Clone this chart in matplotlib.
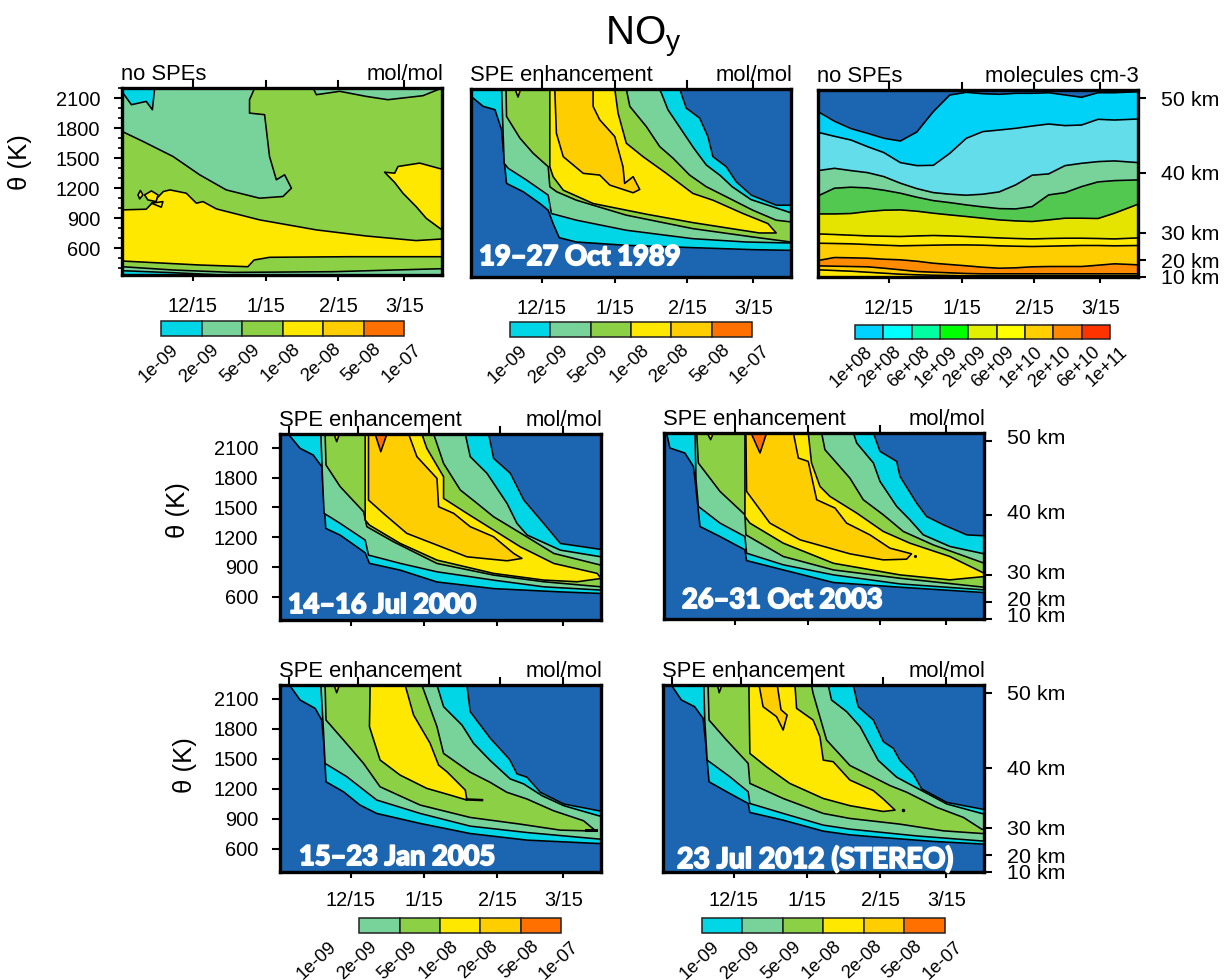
import matplotlib
matplotlib.use('Agg')
import matplotlib.pyplot as plt
import matplotlib.patheffects as pe
from matplotlib.transforms import ScaledTranslation

W, H = 1231, 980
plt.rcParams['font.family'] = ['Liberation Sans', 'DejaVu Sans']
plt.rcParams['mathtext.fontset'] = 'custom'
plt.rcParams['mathtext.rm'] = 'Liberation Sans'
plt.rcParams['mathtext.default'] = 'rm'

# x axis is days since 15 Nov, y axis is potential temperature in K
date_days = [30, 61, 92, 120]
date_labels = ['12/15', '1/15', '2/15', '3/15']
top_days_shifted = [4, 33, 63, 93, 120]
theta_ticks = [600, 900, 1200, 1500, 1800, 2100]
theta_minor = [400, 500, 700, 800, 1000, 1100, 1300, 1400, 1600, 1700, 1900, 2000, 2200]
km_labels = ['50 km', '40 km', '30 km', '20 km', '10 km']
km_theta_top = [2117, 1373, 770, 500, 330]
km_theta_low = [2160, 1412, 808, 536, 367]

mix_levels = ['1e-09', '2e-09', '5e-09', '1e-08', '2e-08', '5e-08', '1e-07']
dens_levels = ['1e+08', '2e+08', '6e+08', '1e+09', '2e+09', '6e+09', '1e+10', '2e+10', '6e+10', '1e+11']

BLUE = '#1c66b1'
CYAN = '#00d6e6'
TEAL = '#78d39b'
GREEN = '#8bd045'
YELLOW = '#ffe800'
GOLD = '#ffce00'
ORANGE = '#ff7000'
mix_colors = [CYAN, TEAL, GREEN, YELLOW, GOLD, ORANGE]
dens_colors = ['#00d2ff', '#00ffff', '#00ffa0', '#00ff00', '#e0f000', '#ffff00', '#ffcf00', '#ff8800', '#ff3300']
dens_bands = [BLUE, '#00d2f7', '#62dde9', TEAL, '#53c850', '#e4e400', YELLOW, GOLD, '#ff8c00', GOLD, YELLOW]

# no SPEs, mixing ratio
base_cyan_day = [0, 0.4, 4, 10.3, 12.9, 13.9]
base_cyan_theta = [2200, 2150, 2033, 2066, 1983, 2200]
base_teal_day = [0, 8.9, 21.7, 33, 44.3, 58.5, 68.4, 72, 69.1, 65.6, 62.7, 60.6, 54.2, 54.2, 56.4, 0]
base_teal_theta = [1766, 1666, 1515, 1332, 1181, 1098, 1115, 1198, 1332, 1282, 1515, 1933, 1949, 2083, 2200, 2200]
base_teal2_day = [81.2, 82.6, 92.5, 103.8, 113, 127.9, 136]
base_teal2_theta = [2200, 2133, 2167, 2116, 2083, 2123, 2200]
base_yellow_day = [0, 10.3, 17.6, 20.4, 27.3, 31.6, 34.4, 40.1, 58.5, 82.6, 103.8, 125, 136, 136, 96.7, 62.7, 56.1, 53.5, 33, 0]
base_yellow_theta = [981, 988, 1165, 1181, 1148, 1048, 1064, 991, 881, 781, 720, 674, 690, 513, 513, 507, 480, 413, 430, 470]
base_isle1_day = [9.6, 12.5, 15.3, 14.5, 11]
base_isle1_theta = [1131, 1171, 1131, 1064, 1081]
base_isle2_day = [6.8, 7.8, 8.9, 7.5]
base_isle2_theta = [1131, 1175, 1131, 1091]
base_isle3_day = [12.5, 17.4, 16.7]
base_isle3_theta = [1048, 1064, 1008]
base_patch_day = [111.6, 115.9, 117.3, 126.5, 136, 136, 129.3, 125, 119.4, 115.9]
base_patch_theta = [1358, 1348, 1415, 1449, 1388, 781, 897, 1014, 1148, 1255]
base_low_teal_day = [0, 21.7, 47.2, 89.7, 136, 136, 0]
base_low_teal_theta = [413, 380, 356, 363, 393, 320, 320]
base_low_cyan_day = [0, 21.7, 47.2, 0]
base_low_cyan_theta = [373, 353, 325, 325]

# 19-27 Oct 1989
oct89_a_day = [0, 5.2, 10.2, 13, 14.1, 15.1, 22.2, 29.3, 32.8, 34.9, 37.5, 44.8, 66, 94.3, 119.8, 136, 136, 129.7, 119.1, 112.7, 108.5, 102.8, 100.7, 97.2, 91.5, 88.7, 0]
oct89_a_theta = [2127, 2027, 1994, 1794, 1494, 1261, 1178, 1061, 994, 861, 721, 678, 645, 622, 602, 595, 1044, 1044, 1144, 1278, 1427, 1527, 1727, 1910, 2010, 2200, 2200]
oct89_b_day = [13, 14.1, 15.8, 23.6, 32.8, 34.2, 44.8, 66, 94.3, 117, 136, 136, 119, 111, 106, 100, 94.7, 88, 83.7, 80.9, 80]
oct89_b_theta = [2200, 1461, 1411, 1294, 1144, 961, 895, 795, 711, 678, 668, 968, 1100, 1228, 1338, 1444, 1611, 1844, 1994, 2160, 2200]
oct89_c_day = [14.9, 15.1, 20.8, 26.4, 32.8, 33.5, 36.4, 44.8, 66, 94.3, 119.8, 136, 136, 129.7, 119.8, 108.5, 100, 92.9, 85.9, 80.2, 74.5, 67.5, 66]
oct89_c_theta = [2200, 1927, 1711, 1561, 1427, 1228, 1178, 1094, 945, 811, 728, 678, 878, 895, 994, 1128, 1228, 1344, 1511, 1627, 1827, 2027, 2200]
oct89_d_day = [33.5, 33.5, 34.9, 39.2, 51.9, 74.5, 94.3, 122.6, 129.7, 126.2, 115.6, 102.8, 94.3, 83, 73.1, 66, 62.5, 61.1]
oct89_d_theta = [2200, 1427, 1328, 1194, 1061, 955, 871, 768, 768, 861, 961, 1094, 1161, 1361, 1527, 1661, 1960, 2200]
oct89_e_day = [35.6, 36.3, 39.2, 47.7, 54.7, 59, 68.9, 71.7, 68.9, 65.3, 64.6, 61.1, 54.7, 51.9, 51.9]
oct89_e_theta = [2200, 1760, 1527, 1361, 1344, 1244, 1168, 1201, 1328, 1261, 1427, 1727, 1894, 2027, 2200]
oct89_nub_day = [18.7, 20, 21.1]
oct89_nub_theta = [2200, 2120, 2200]

# no SPEs, number density: boundaries on one common day grid
dens_day = [0, 7, 14, 21, 28, 35, 42, 49, 56, 63, 70, 77, 84, 91, 98, 105, 112, 119, 126, 136]
dens_1 = [1984, 1887, 1814, 1767, 1717, 1690, 1780, 1984, 2150, 2177, 2163, 2157, 2167, 2167, 2173, 2150, 2127, 2173, 2173, 2183]
dens_2 = [1777, 1737, 1700, 1634, 1574, 1474, 1444, 1447, 1567, 1717, 1784, 1800, 1817, 1840, 1860, 1844, 1850, 1907, 1900, 1910]
dens_3 = [1394, 1417, 1394, 1374, 1334, 1268, 1214, 1174, 1158, 1148, 1158, 1181, 1251, 1348, 1361, 1444, 1467, 1484, 1491, 1474]
dens_4 = [1141, 1218, 1228, 1221, 1198, 1168, 1128, 1094, 1074, 1051, 1031, 1014, 1011, 1034, 1151, 1174, 1234, 1281, 1294, 1301]
dens_5 = [961, 961, 965, 985, 998, 1001, 988, 968, 951, 935, 918, 901, 891, 885, 901, 918, 918, 915, 968, 1058]
dens_6 = [761, 755, 748, 741, 738, 735, 741, 745, 741, 735, 728, 721, 715, 711, 715, 718, 718, 715, 711, 721]
dens_7 = [668, 665, 662, 655, 648, 642, 645, 648, 651, 651, 648, 642, 638, 635, 638, 642, 645, 645, 642, 645]
dens_8 = [495, 525, 522, 518, 508, 502, 488, 468, 455, 442, 428, 418, 422, 432, 435, 435, 435, 448, 462, 452]
dens_9 = [442, 438, 435, 432, 418, 402, 385, 378, 372, 365, 362, 362, 362, 362, 362, 362, 362, 362, 362, 362]
dens_10 = [402, 395, 388, 378, 368, 358, 352, 348, 345, 342, 342, 342, 342, 342, 342, 342, 342, 342, 342, 342]

# 14-16 Jul 2000
jul00_a_day = [3.5, 8.5, 14.1, 17.7, 18.4, 19.4, 25.5, 32.5, 36.1, 37.9, 50.9, 66.5, 90.5, 118.8, 136, 136, 118.8, 111.7, 103.3, 97.6, 90.5, 88.4]
jul00_a_theta = [2238, 2094, 2026, 1909, 1640, 1288, 1220, 1103, 1042, 936, 868, 749, 682, 649, 633, 1076, 1136, 1338, 1573, 1842, 1993, 2238]
jul00_b_day = [17.3, 18.1, 18.7, 25.5, 36.1, 37.5, 50.9, 66.5, 90.5, 111.7, 136, 136, 118.8, 104.7, 100.4, 96.2, 87.7, 80.6, 78.5]
jul00_b_theta = [2238, 1741, 1439, 1338, 1170, 1019, 936, 851, 767, 700, 667, 1002, 1069, 1221, 1338, 1539, 1842, 2010, 2238]
jul00_c_day = [19.1, 19.5, 25.5, 35.4, 36.8, 48.1, 66.5, 90.5, 111.7, 136, 136, 116, 103.3, 90.5, 83.5, 76.4, 69.3, 65.1]
jul00_c_theta = [2238, 1926, 1708, 1456, 1305, 1153, 935, 818, 751, 700, 918, 1036, 1221, 1405, 1540, 1674, 1942, 2238]
jul00_d_day = [36.1, 36.1, 37.9, 50.9, 66.5, 90.5, 111.7, 125.9, 136, 134.4, 116, 101.8, 90.5, 79.2, 69.3, 69.3, 62.2, 60.1]
jul00_d_theta = [2238, 1372, 1321, 1137, 969, 835, 768, 751, 784, 835, 935, 1103, 1271, 1439, 1590, 1808, 2094, 2238]
jul00_e_day = [37.5, 37.5, 43.8, 53.7, 66.5, 79.2, 96.2, 102.5, 99, 90.5, 80.6, 73.6, 67.2, 66.5, 58, 54.5]
jul00_e_theta = [2238, 1573, 1439, 1238, 1120, 1002, 962, 986, 1036, 1204, 1305, 1439, 1506, 1791, 2010, 2238]
jul00_f_day = [40.3, 42.7, 45.3]
jul00_f_theta = [2238, 2060, 2238]
jul00_nub_day = [22.9, 24, 25.2]
jul00_nub_theta = [2238, 2161, 2238]

# 26-31 Oct 2003
oct03_a_day = [1.1, 2.5, 8.9, 12.5, 13.2, 15.3, 23.8, 34.4, 35.1, 50.7, 72, 100.3, 136, 136, 128.6, 118.7, 111.6, 107.4, 100.3, 98.9, 91.8, 89]
oct03_a_theta = [2238, 2087, 2036, 1902, 1768, 1297, 1196, 1062, 954, 860, 733, 686, 632, 1203, 1213, 1314, 1398, 1532, 1801, 1952, 2053, 2238]
oct03_b_day = [13.2, 13.6, 14.6, 23.8, 34.4, 35.1, 50.7, 72, 100.3, 136, 136, 121.5, 110.2, 104.5, 98.9, 91.8, 89, 81.9, 80.5]
oct03_b_theta = [2238, 1768, 1499, 1331, 1196, 1028, 911, 810, 719, 659, 1022, 1096, 1213, 1364, 1499, 1751, 1936, 2137, 2238]
oct03_c_day = [13.9, 14.6, 23.8, 34.4, 34.8, 50.7, 72, 100.3, 136, 136, 114.4, 101.7, 93.2, 84.7, 79, 68.4, 67]
oct03_c_theta = [2238, 1936, 1650, 1415, 1213, 995, 860, 776, 686, 928, 1112, 1247, 1415, 1566, 1784, 2070, 2238]
oct03_d_day = [34.4, 34.4, 36.5, 50.7, 72, 100.3, 121.5, 136, 136, 121.5, 104.5, 93.2, 81.9, 70.5, 66.3, 62.7, 61.3]
oct03_d_theta = [2238, 1398, 1331, 1129, 927, 810, 760, 793, 827, 995, 1129, 1247, 1432, 1600, 1700, 1936, 2238]
oct03_e_day = [34.8, 35.1, 45, 57.8, 79, 93.2, 103.1, 105.2, 96, 87.5, 77.6, 72.7, 64.9, 61.3, 57.1, 55]
oct03_e_theta = [2238, 1650, 1331, 1163, 1022, 961, 968, 1022, 1079, 1213, 1331, 1482, 1566, 1952, 1986, 2238]
oct03_f_day = [37, 40.8, 43.6]
oct03_f_theta = [2238, 2036, 2238]
oct03_nub_day = [18.4, 19.8, 21]
oct03_nub_theta = [2238, 2171, 2238]
oct03_dot_day = [106.6]
oct03_dot_theta = [1000]

# 15-23 Jan 2005
jan05_a_day = [4, 8.5, 14.9, 17.7, 18.7, 19.5, 26.9, 33.9, 41, 59.4, 80.6, 104.7, 136, 136, 135, 120.2, 110.3, 104.6, 100.4, 97.5, 96.9, 89.1, 80.6, 79.2]
jan05_a_theta = [2238, 2088, 2004, 1887, 1620, 1269, 1169, 1036, 952, 852, 751, 685, 650, 975, 979, 1047, 1164, 1315, 1349, 1483, 1503, 1704, 1971, 2238]
jan05_b_day = [17.3, 18.4, 19.1, 28.3, 41, 59.4, 80.6, 104.7, 136, 136, 135, 120.2, 111, 103.2, 97.5, 89, 82, 77.1, 69.3, 66.5]
jan05_b_theta = [2238, 1787, 1453, 1320, 1086, 952, 825, 761, 694, 925, 929, 1030, 1130, 1248, 1298, 1483, 1654, 1837, 2021, 2238]
jan05_c_day = [19.1, 19.5, 26.9, 35.4, 42.4, 59.4, 80.6, 101.8, 118.8, 130, 132.9, 128.6, 115.9, 104.6, 96.1, 89, 80.6, 69.3, 66.5, 60.1]
jan05_c_theta = [2238, 1887, 1687, 1453, 1219, 1036, 912, 845, 785, 778, 795, 879, 979, 1097, 1164, 1264, 1365, 1553, 1821, 2238]
jan05_d_day = [38.2, 37.9, 42.4, 50.9, 62.2, 72.1, 79.2, 78.5, 70.7, 67.2, 63.6, 56.6, 53]
jan05_d_theta = [2238, 1821, 1487, 1336, 1203, 1136, 1086, 1186, 1370, 1436, 1654, 1937, 2238]
jan05_nub_day = [22.9, 24, 25.2]
jan05_nub_theta = [2238, 2161, 2238]
jan05_tail_day = [79.2, 85.6]
jan05_tail_theta = [1092, 1086]
jan05_tip_day = [129.5, 134]
jan05_tip_theta = [790, 790]

# 23 Jul 2012
jul12_a_day = [3.5, 7.8, 13.4, 17, 18.1, 19.5, 28.3, 36.1, 36.8, 50.9, 67.9, 79.2, 93.4, 114.6, 136, 136, 135, 120.2, 109.6, 106, 100.4, 97.6, 93.4, 89.1, 82.7, 80.6]
jul12_a_theta = [2238, 2088, 2021, 1904, 1654, 1269, 1152, 1052, 962, 885, 775, 738, 710, 672, 645, 990, 996, 1063, 1198, 1349, 1483, 1603, 1670, 1887, 2021, 2238]
jul12_b_day = [17.3, 17.7, 18.7, 28.3, 36.1, 36.8, 50.9, 67.9, 79.2, 107.5, 136, 136, 135, 120.2, 109.6, 99, 91.2, 83.5, 77.8, 71.4, 70]
jul12_b_theta = [2238, 1887, 1486, 1320, 1169, 1052, 952, 835, 795, 727, 675, 948, 952, 1047, 1181, 1315, 1483, 1821, 1971, 2088, 2238]
jul12_c_day = [19.1, 19.5, 26.9, 36.1, 36.8, 50.9, 67.9, 79.2, 100.4, 118.8, 136, 136, 135, 127.3, 116, 103.3, 96.2, 87.7, 79.2, 69.3, 63.6, 62.9]
jul12_c_theta = [2238, 1887, 1687, 1453, 1253, 1102, 952, 902, 845, 778, 750, 790, 795, 912, 1013, 1164, 1231, 1332, 1432, 1687, 2154, 2238]
jul12_d_day = [36.4, 36.8, 43.8, 53.7, 67.9, 79.2, 93.3, 98.3, 93.3, 89.1, 79.2, 72.1, 67.9, 66.5, 63.6, 56.6, 55.9]
jul12_d_theta = [2238, 1553, 1420, 1253, 1102, 1030, 972, 986, 1097, 1181, 1286, 1470, 1486, 1720, 1887, 2004, 2238]
jul12_e_day = [40.7, 42.4, 48.1, 50.9, 52.6, 50, 48.4]
jul12_e_theta = [2238, 2021, 1921, 1787, 1937, 1990, 2238]
jul12_nub_day = [23.1, 23.8, 25]
jul12_nub_theta = [2238, 2161, 2238]
jul12_dot_day = [101.8]
jul12_dot_theta = [986]


def px_axes(left, top, right, bottom):
    return fig.add_axes([left / W, 1 - bottom / H, (right - left) / W, (bottom - top) / H])


def panel(box, ylim, left_text, right_text, xlabels=True, pad=11, top_days=None, yleft=False, km=None):
    ax = px_axes(*box)
    ax.set_xlim(0, 136)
    ax.set_ylim(*ylim)
    ax.set_facecolor(BLUE)
    for s in ax.spines.values():
        s.set_linewidth(2.4)
        s.set_zorder(10)
    ax.set_xticks(date_days)
    ax.set_xticklabels(date_labels if xlabels else [])
    ax.tick_params(axis='x', direction='out', length=4.5, width=1.5, pad=pad, labelsize=14.4)
    for d in (top_days if top_days else date_days):
        ax.plot([d, d], [1, 1.04], color='k', lw=1.5, transform=ax.get_xaxis_transform(), clip_on=False, zorder=11)
    if yleft:
        ax.set_yticks(theta_ticks)
        ax.tick_params(axis='y', direction='out', length=6, width=1.5, pad=9.5, labelsize=14.4)
    elif km:
        ax.yaxis.tick_right()
        ax.set_yticks(km)
        ax.set_yticklabels(km_labels)
        ax.tick_params(axis='y', direction='out', length=6, width=1.5, pad=10.5, labelsize=15.4)
    else:
        ax.set_yticks([])
    ax.annotate(left_text, (0, 1), xycoords='axes fraction', xytext=(-0.5, 5.5), textcoords='offset points',
                fontsize=15.8, ha='left', va='baseline', zorder=12)
    ax.annotate(right_text, (1, 1), xycoords='axes fraction', xytext=(0.8, 5.5), textcoords='offset points',
                fontsize=15.8, ha='right', va='baseline', zorder=12)
    return ax


def region(ax, day, theta, color):
    ax.fill(day, theta, facecolor=color, edgecolor='k', lw=1.15, joinstyle='round')


def colorbar(box, labels, colors, first_blank=False):
    ax = px_axes(*box)
    n = len(labels) - 1
    ax.set_xlim(0, n)
    ax.set_ylim(0, 1)
    ax.axis('off')
    for i, c in enumerate(colors):
        ax.bar(i + (1 if first_blank else 0), 1, width=1, align='edge', color=c, edgecolor='#222222', lw=1.1, clip_on=False)
    for i, lab in enumerate(labels):
        ax.annotate(lab, (i, 0), xytext=(7, -3.5), textcoords='offset points', rotation=43, ha='right', va='top',
                    rotation_mode='anchor', fontsize=13.2, annotation_clip=False)


def event(x, y, text, size):
    fig.text(x / W, 1 - y / H, text, color='white', fontfamily='Lato', fontweight='bold', fontsize=size,
             ha='left', va='baseline', zorder=20,
             path_effects=[pe.withStroke(linewidth=1.4, foreground='white')])


fig = plt.figure(figsize=(W / 100, H / 100), dpi=100)
fig.text(605 / W, 1 - 44 / H, r'NO$_{\mathrm{y}}$', fontsize=29, ha='left', va='baseline')

ylim_top = (330, 2200)
ylim_low = (366, 2238)

# top row
ax = panel((122, 88, 442, 275), ylim_top, 'no SPEs', 'mol/mol', yleft=True)
ax.set_facecolor(GREEN)
ax.set_yticks(theta_minor, minor=True)
ax.tick_params(axis='y', which='minor', direction='out', length=3, width=1.2)
region(ax, base_teal_day, base_teal_theta, TEAL)
region(ax, base_teal2_day, base_teal2_theta, TEAL)
region(ax, base_cyan_day, base_cyan_theta, CYAN)
region(ax, base_yellow_day, base_yellow_theta, YELLOW)
region(ax, base_isle1_day, base_isle1_theta, YELLOW)
region(ax, base_isle2_day, base_isle2_theta, YELLOW)
region(ax, base_isle3_day, base_isle3_theta, YELLOW)
region(ax, base_patch_day, base_patch_theta, YELLOW)
region(ax, base_low_teal_day, base_low_teal_theta, TEAL)
region(ax, base_low_cyan_day, base_low_cyan_theta, CYAN)
colorbar((161, 321, 404, 336), mix_levels, mix_colors)

ax = panel((471, 89, 791, 277), ylim_top, 'SPE enhancement', 'mol/mol')
region(ax, oct89_a_day, oct89_a_theta, CYAN)
region(ax, oct89_b_day, oct89_b_theta, TEAL)
region(ax, oct89_c_day, oct89_c_theta, GREEN)
region(ax, oct89_nub_day, oct89_nub_theta, YELLOW)
region(ax, oct89_d_day, oct89_d_theta, YELLOW)
region(ax, oct89_e_day, oct89_e_theta, GOLD)
colorbar((510, 322, 752, 337), mix_levels, mix_colors)
event(479, 265, '19\u201327 Oct 1989', 19.7)

ax = panel((818, 90, 1138, 277), ylim_top, 'no SPEs', 'molecules cm-3', km=km_theta_top)
dens_bounds = [2300, dens_1, dens_2, dens_3, dens_4, dens_5, dens_6, dens_7, dens_8, dens_9, dens_10, 300]
for i, c in enumerate(dens_bands):
    ax.fill_between(dens_day, dens_bounds[i + 1], dens_bounds[i], color=c, lw=0)
for line in dens_bounds[1:-1]:
    ax.plot(dens_day, line, color='k', lw=1.15)
colorbar((855, 325, 1110, 339), dens_levels, dens_colors)

# middle row
ax = panel((280, 434, 601, 620), ylim_low, 'SPE enhancement', 'mol/mol', xlabels=False, top_days=top_days_shifted, yleft=True)
region(ax, jul00_a_day, jul00_a_theta, CYAN)
region(ax, jul00_b_day, jul00_b_theta, TEAL)
region(ax, jul00_c_day, jul00_c_theta, GREEN)
region(ax, jul00_nub_day, jul00_nub_theta, YELLOW)
region(ax, jul00_d_day, jul00_d_theta, YELLOW)
region(ax, jul00_e_day, jul00_e_theta, GOLD)
region(ax, jul00_f_day, jul00_f_theta, ORANGE)
event(288, 613, '14\u201316 Jul 2000', 19.5)

ax = panel((664, 433, 984, 619), ylim_low, 'SPE enhancement', 'mol/mol', xlabels=False, km=km_theta_low)
region(ax, oct03_a_day, oct03_a_theta, CYAN)
region(ax, oct03_b_day, oct03_b_theta, TEAL)
region(ax, oct03_c_day, oct03_c_theta, GREEN)
region(ax, oct03_nub_day, oct03_nub_theta, YELLOW)
region(ax, oct03_d_day, oct03_d_theta, YELLOW)
region(ax, oct03_e_day, oct03_e_theta, GOLD)
region(ax, oct03_f_day, oct03_f_theta, ORANGE)
ax.plot(oct03_dot_day, oct03_dot_theta, 'k.', ms=2.5)
# the km labels of this panel sit a little above their ticks
for lab in ax.get_yticklabels():
    lab.set_transform(lab.get_transform() + ScaledTranslation(0, 4 / 100, fig.dpi_scale_trans))
event(682, 608, '26\u201331 Oct 2003', 19.6)

# bottom row
ax = panel((280, 685, 601, 872), ylim_low, 'SPE enhancement', 'mol/mol', pad=9, top_days=top_days_shifted, yleft=True)
region(ax, jan05_a_day, jan05_a_theta, CYAN)
region(ax, jan05_b_day, jan05_b_theta, TEAL)
region(ax, jan05_c_day, jan05_c_theta, GREEN)
region(ax, jan05_nub_day, jan05_nub_theta, YELLOW)
region(ax, jan05_d_day, jan05_d_theta, YELLOW)
ax.plot(jan05_tail_day, jan05_tail_theta, color='k', lw=1.8)
ax.plot(jan05_tip_day, jan05_tip_theta, color='k', lw=2.2)
colorbar((319, 918, 561, 933), mix_levels, mix_colors[1:], first_blank=True)
event(299, 865, '15\u201323 Jan 2005', 19.6)

ax = panel((663, 685, 984, 872), ylim_low, 'SPE enhancement', 'mol/mol', pad=9, top_days=top_days_shifted, km=km_theta_low)
region(ax, jul12_a_day, jul12_a_theta, CYAN)
region(ax, jul12_b_day, jul12_b_theta, TEAL)
region(ax, jul12_c_day, jul12_c_theta, GREEN)
region(ax, jul12_nub_day, jul12_nub_theta, YELLOW)
region(ax, jul12_d_day, jul12_d_theta, YELLOW)
region(ax, jul12_e_day, jul12_e_theta, GOLD)
ax.plot(jul12_dot_day, jul12_dot_theta, 'k.', ms=3)
colorbar((702, 918, 945, 933), mix_levels, mix_colors)
event(677, 868, '23 Jul 2012 (STEREO)', 20.4)

for x, y in [(20, 162), (178, 510), (185, 765)]:
    fig.text(x / W, 1 - y / H, '\u03b8 (K)', rotation=90, fontsize=18.5, ha='center', va='center')

plt.savefig('out.png', dpi=100)
